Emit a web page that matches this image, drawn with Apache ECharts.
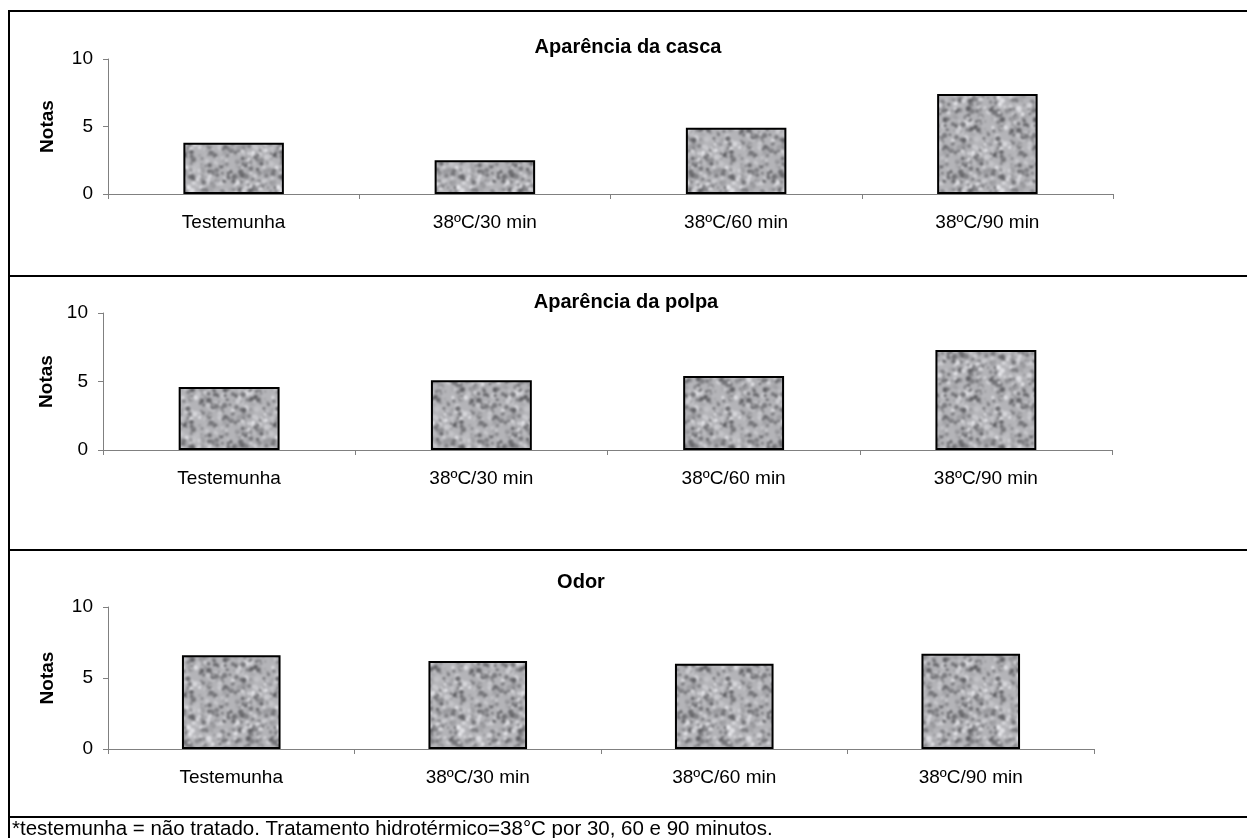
<!DOCTYPE html>
<html>
<head>
<meta charset="utf-8">
<script src="https://cdn.jsdelivr.net/npm/echarts@6/dist/echarts.min.js"></script>
<style>
  html, body { margin: 0; padding: 0; background: #fff; }
  #chart { width: 1247px; height: 838px; }
</style>
</head>
<body>
<div id="chart"></div>
<script>
const categories = ['Testemunha', '38ºC/30 min', '38ºC/60 min', '38ºC/90 min'];
const cascaValues = [3.8, 2.5, 4.9, 7.4];
const polpaValues = [4.6, 5.1, 5.4, 7.3];
const odorValues = [6.6, 6.2, 6.0, 6.7];
const panelTitles = ['Aparência da casca', 'Aparência da polpa', 'Odor'];
const yTicks = [0, 5, 10];
const footnote = '*testemunha = não tratado. Tratamento hidrotérmico=38°C por 30, 60 e 90 minutos.';

const FONT = '"Liberation Sans", Arial, sans-serif';

// mottled grey fill, like the old spreadsheet texture
function makeTexture() {
  const T = 90;
  const c = document.createElement('canvas');
  c.width = T; c.height = T;
  const ctx = c.getContext('2d');
  let s = 12345;
  const rnd = () => { s = (s * 1103515245 + 12345) & 0x7fffffff; return s / 0x7fffffff; };
  ctx.fillStyle = '#b4b4b8';
  ctx.fillRect(0, 0, T, T);
  for (let i = 0; i < 650; i++) {
    const g = Math.round(90 + rnd() * 140);
    ctx.fillStyle = 'rgb(' + g + ',' + g + ',' + (g + 4) + ')';
    const x = rnd() * T, y = rnd() * T, r = 0.8 + rnd() * 2;
    for (let dx = -T; dx <= T; dx += T) {
      for (let dy = -T; dy <= T; dy += T) {
        ctx.beginPath();
        ctx.arc(x + dx, y + dy, r, 0, Math.PI * 2);
        ctx.fill();
      }
    }
  }
  // 3x3 tiling first, then blur, then keep the middle tile (no seams)
  const big = document.createElement('canvas');
  big.width = T * 3; big.height = T * 3;
  const b = big.getContext('2d');
  for (let i = 0; i < 3; i++)
    for (let j = 0; j < 3; j++) b.drawImage(c, i * T, j * T);
  const out = document.createElement('canvas');
  out.width = T; out.height = T;
  const o = out.getContext('2d');
  o.filter = 'blur(1px)';
  o.drawImage(big, -T, -T);
  return out;
}
const texture = makeTexture();

const grids = [
  { left: 108, top: 59, width: 1005, height: 135 },
  { left: 103, top: 313, width: 1009, height: 137 },
  { left: 108, top: 607, width: 986, height: 142 }
];
const titlePos = [[628, 47], [626, 302], [581, 582]];
const seriesData = [cascaValues, polpaValues, odorValues];

const axisColor = '#808080';

const option = {
  animation: false,
  backgroundColor: '#fff',
  grid: grids,
  xAxis: grids.map((g, i) => ({
    type: 'category',
    gridIndex: i,
    data: categories,
    axisLine: { lineStyle: { color: axisColor, width: 1 } },
    axisTick: { show: true, length: 5, lineStyle: { color: axisColor } },
    axisLabel: { color: '#000', fontSize: 19, fontFamily: FONT, margin: 19 }
  })),
  yAxis: grids.map((g, i) => ({
    type: 'value',
    gridIndex: i,
    min: 0,
    max: 10,
    interval: 5,
    name: 'Notas',
    nameLocation: 'middle',
    nameGap: g.left - 57,
    nameTextStyle: { fontSize: 19, fontWeight: 'bold', fontFamily: FONT, color: '#000' },
    axisLine: { show: true, lineStyle: { color: axisColor, width: 1 } },
    axisTick: { show: true, length: 5, lineStyle: { color: axisColor } },
    splitLine: { show: false },
    axisLabel: {
      color: '#000', fontSize: 19, fontFamily: FONT, margin: 15,
      formatter: v => (yTicks.indexOf(v) >= 0 ? String(v) : '')
    }
  })),
  series: seriesData.map((d, i) => ({
    type: 'bar',
    xAxisIndex: i,
    yAxisIndex: i,
    data: d,
    barWidth: '40%',
    itemStyle: {
      color: { image: texture, repeat: 'repeat' },
      borderColor: '#000',
      borderWidth: 2
    }
  })),
  graphic: [
    // frame lines
    ...[11, 276, 550, 817].map(y => ({
      type: 'line',
      shape: { x1: 9, y1: y, x2: 1247, y2: y },
      style: { stroke: '#000', lineWidth: 2 }
    })),
    {
      type: 'line',
      shape: { x1: 9, y1: 10, x2: 9, y2: 838 },
      style: { stroke: '#000', lineWidth: 2 }
    },
    ...panelTitles.map((t, i) => ({
      type: 'text',
      x: titlePos[i][0],
      y: titlePos[i][1],
      style: {
        text: t,
        align: 'center',
        verticalAlign: 'middle',
        font: 'bold 20px ' + FONT,
        fill: '#000'
      }
    })),
    {
      type: 'text',
      x: 12,
      y: 829,
      style: {
        text: footnote,
        align: 'left',
        verticalAlign: 'middle',
        font: '20.5px ' + FONT,
        fill: '#000'
      }
    }
  ]
};

const chart = echarts.init(document.getElementById('chart'));
chart.setOption(option);
</script>
</body>
</html>
